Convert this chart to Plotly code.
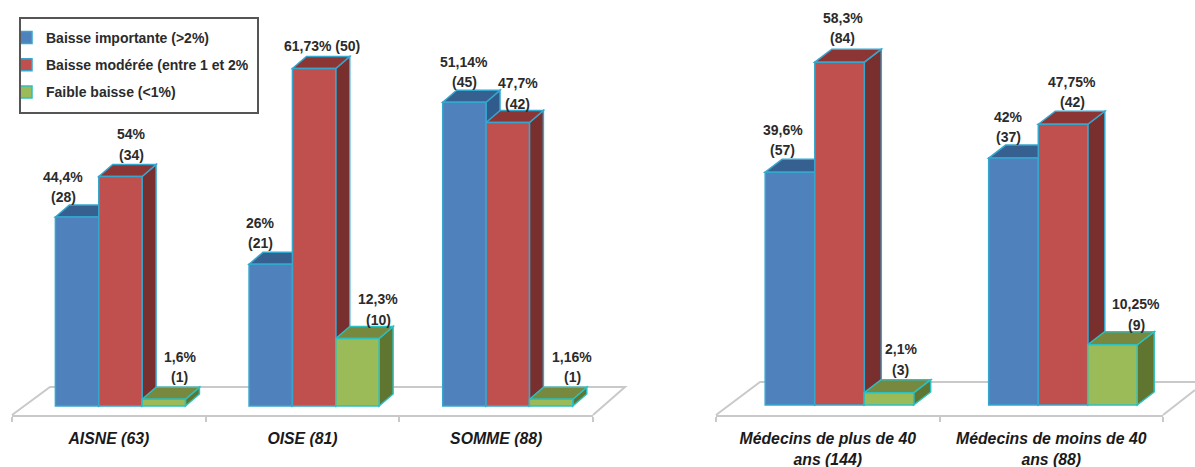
import plotly.graph_objects as go

W, H = 1195, 467
TEXT_COLOR = '#2b2b2b'
FONT = 'Liberation Sans'

SERIES_NAMES = ['Baisse importante (>2%)', 'Baisse modérée (entre 1 et 2%', 'Faible baisse (<1%)']

# Left panel: bar heights follow the counts
DEP_CATEGORIES = ['AISNE (63)', 'OISE (81)', 'SOMME (88)']
DEP_IMPORTANTE = [28, 21, 45]
DEP_MODEREE = [34, 50, 42]
DEP_FAIBLE = [1, 10, 1]
DEP_PCT_IMPORTANTE = ['44,4%', '26%', '51,14%']
DEP_PCT_MODEREE = ['54%', '61,73% (50)', '47,7%']
DEP_PCT_FAIBLE = ['1,6%', '12,3%', '1,16%']

# Right panel: bar heights follow the percentages
AGE_CATEGORIES = ['Médecins de plus de 40<br>ans (144)', 'Médecins de moins de 40<br>ans (88)']
AGE_IMPORTANTE = [39.6, 42]
AGE_MODEREE = [58.3, 47.75]
AGE_FAIBLE = [2.1, 10.25]
AGE_N_IMPORTANTE = [57, 37]
AGE_N_MODEREE = [84, 42]
AGE_N_FAIBLE = [3, 9]
AGE_PCT_IMPORTANTE = ['39,6%', '42%']
AGE_PCT_MODEREE = ['58,3%', '47,75%']
AGE_PCT_FAIBLE = ['2,1%', '10,25%']

# (front, side, top) colours of each series
FACE_COLORS = [('#4f81bd', '#2f5c8c', '#36608f'),
               ('#c0504d', '#7a2f2f', '#8c3535'),
               ('#9bbb59', '#5f7530', '#76893f')]
EDGE_COLORS = ['#35a7cf', '#35a7cf', '#2cc0c0']

FLOOR_COLOR = '#c9c9c9'
LEGEND_GAP = 6


def px_x(v):
    return v / W


def px_y(v):
    return 1 - v / H


def floor_shape(points):
    path = 'M ' + ' L '.join(f'{px_x(x)} {px_y(y)}' for x, y in points)
    return dict(type='path', path=path, xref='paper', yref='paper', layer='below',
                line=dict(color=FLOOR_COLOR, width=2))


def add_panel(fig, axis, categories, series, pct_labels, count_labels, geom, label_shift):
    """Draw one 3D-look panel: bars for the fronts, shapes for the depth faces."""
    xref, yref = f'x{axis}' if axis > 1 else 'x', f'y{axis}' if axis > 1 else 'y'
    unit = geom['unit']
    ppu = geom['ppu']
    dx = geom['depth_x'] / unit
    dy = geom['depth_y'] / ppu
    width = geom['bar'] / unit
    xs = list(range(len(categories)))

    for s, values in enumerate(series):
        front, side, top = FACE_COLORS[s]
        edge = dict(color=EDGE_COLORS[s], width=1.5)
        offset = geom['offsets'][s]
        fig.add_trace(go.Bar(
            x=xs, y=values, name=SERIES_NAMES[s], width=width, offset=offset,
            marker=dict(color=front, line=edge), xaxis=xref, yaxis=yref,
            legendgroup=f's{s}', showlegend=axis == 1, hoverinfo='x+y'
        ))
        for i, v in enumerate(values):
            x0 = i + offset
            x1 = x0 + width
            side_path = f'M {x1} 0 L {x1 + dx} {dy} L {x1 + dx} {v + dy} L {x1} {v} Z'
            top_path = f'M {x0} {v} L {x0 + dx} {v + dy} L {x1 + dx} {v + dy} L {x1} {v} Z'
            for path, color in ((side_path, side), (top_path, top)):
                fig.add_shape(type='path', path=path, xref=xref, yref=yref, layer='below',
                              fillcolor=color, line=edge)
            # value labels, one annotation per line to keep the wide line spacing
            shift_x, shift_y = label_shift[s][i]
            lines = [pct_labels[s][i]]
            if count_labels[s][i] is not None:
                lines.append(count_labels[s][i])
            for k, txt in enumerate(lines):
                fig.add_annotation(
                    x=x0 + width / 2, y=v, xref=xref, yref=yref, text=txt, showarrow=False,
                    xanchor='center', yanchor='middle', xshift=shift_x,
                    yshift=shift_y + (len(lines) - 1 - k) * 20.5,
                    font=dict(family=FONT, size=14, color=TEXT_COLOR, weight='bold')
                )


def panel_axis(n, left, right):
    return dict(
        domain=[px_x(left), px_x(right)], range=[-0.5, n - 0.5], tickmode='array',
        tickvals=[], showgrid=False, zeroline=False, ticks='',
        showline=True, linecolor=FLOOR_COLOR, linewidth=2, ticklabelstandoff=8,
        minor=dict(tickmode='array', tickvals=[i - 0.5 for i in range(n + 1)], ticks='outside',
                   ticklen=5, tickcolor=FLOOR_COLOR, tickwidth=2, showgrid=False),
        tickfont=dict(family=FONT, size=15.8, color='#1a1a1a', weight='bold', style='italic'),
    )


fig = go.Figure()

# pixel offsets of the labels from each bar's top, per series and category
DEP_SHIFT = [[(-14, 20), (-10, 21), (0, 20)],
             [(11, 22), (8, 23), (10, 19)],
             [(16, 22), (21, 19), (21, 22)]]
AGE_SHIFT = [[(-7, 22), (-5, 21)],
             [(3, 24), (9, 22)],
             [(12, 23), (24, 20)]]

DEP_GEOM = dict(unit=193.67, ppu=6.75, bar=43.3, depth_x=14, depth_y=12,
                offsets=[-0.276, -0.052, 0.172])
AGE_GEOM = dict(unit=223.5, ppu=5.88, bar=49.5, depth_x=17, depth_y=13,
                offsets=[-0.28, -0.058, 0.163])

add_panel(fig, 1, DEP_CATEGORIES,
          [DEP_IMPORTANTE, DEP_MODEREE, DEP_FAIBLE],
          [DEP_PCT_IMPORTANTE, DEP_PCT_MODEREE, DEP_PCT_FAIBLE],
          [[f'({v})' for v in DEP_IMPORTANTE],
           ['(34)', None, '(42)'],
           [f'({v})' for v in DEP_FAIBLE]],
          DEP_GEOM, DEP_SHIFT)
add_panel(fig, 2, AGE_CATEGORIES,
          [AGE_IMPORTANTE, AGE_MODEREE, AGE_FAIBLE],
          [AGE_PCT_IMPORTANTE, AGE_PCT_MODEREE, AGE_PCT_FAIBLE],
          [[f'({v})' for v in AGE_N_IMPORTANTE],
           [f'({v})' for v in AGE_N_MODEREE],
           [f'({v})' for v in AGE_N_FAIBLE]],
          AGE_GEOM, AGE_SHIFT)

xaxis1 = panel_axis(3, 12, 593)
xaxis1.update(tickvals=[0, 1, 2], ticktext=DEP_CATEGORIES, anchor='y')
xaxis2 = panel_axis(2, 716, 1163)
xaxis2.update(tickvals=[0, 1], ticktext=AGE_CATEGORIES, anchor='y2')

base_px = 415
fig.update_layout(
    width=W, height=H,
    margin=dict(l=0, r=0, t=0, b=0),
    paper_bgcolor='white', plot_bgcolor='rgba(0,0,0,0)',
    barmode='overlay',
    font=dict(family=FONT),
    xaxis=xaxis1,
    xaxis2=xaxis2,
    yaxis=dict(domain=[px_y(base_px), 1], range=[-9 / 6.75, 406 / 6.75], visible=False, anchor='x'),
    yaxis2=dict(domain=[px_y(base_px), 1], range=[-10 / 5.88, 405 / 5.88], visible=False, anchor='x2'),
    legend=dict(
        x=px_x(21), y=px_y(22), xanchor='left', yanchor='top',
        bgcolor='rgba(0,0,0,0)', borderwidth=0,
        font=dict(family=FONT, size=14, color=TEXT_COLOR, weight='bold'),
        tracegroupgap=LEGEND_GAP, indentation=-15, traceorder='grouped',
    ),
)

# floor outline, behind everything
for points in ([(12, 415), (50, 387), (625, 387), (593, 415)],
               [(716, 415), (760, 382), (1195, 382)],
               [(1163, 415), (1195, 390)]):
    fig.add_shape(**floor_shape(points))

# legend frame, a shape because the legend itself would be too short with this spacing
fig.add_shape(type='rect', xref='paper', yref='paper',
              x0=px_x(20), x1=px_x(258), y0=px_y(113), y1=px_y(18),
              fillcolor='white', layer='below', line=dict(color='#555555', width=2))

# the page's default body margin would shift the picture
fig.write_html('out.html', config={'displayModeBar': False},
               post_script="document.body.style.margin = '0';")
